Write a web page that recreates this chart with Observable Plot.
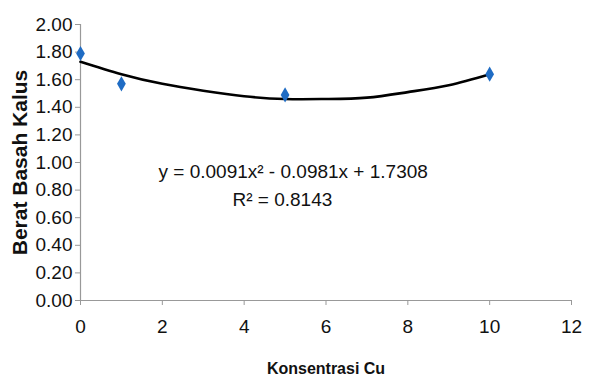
<!DOCTYPE html>
<html><head><meta charset="utf-8">
<script src="https://cdn.jsdelivr.net/npm/d3@7"></script>
<script src="https://cdn.jsdelivr.net/npm/@observablehq/plot@0.6"></script>
<style>body{margin:0;background:#fff}</style>
</head><body><div id="chart"></div>
<script>
const conc = [0, 1, 5, 10];
const berat = [1.79, 1.57, 1.49, 1.64];
const trendX = [0, 1, 2, 3, 4, 5, 6, 7, 8, 9, 10];
const trendY = [1.73, 1.64, 1.57, 1.52, 1.48, 1.46, 1.46, 1.47, 1.51, 1.56, 1.64];
const xTicks = [0, 2, 4, 6, 8, 10, 12];
const yTicks = [0, 0.2, 0.4, 0.6, 0.8, 1.0, 1.2, 1.4, 1.6, 1.8, 2.0];
const eqText = "y = 0.0091x² - 0.0981x + 1.7308";
const r2Text = "R² = 0.8143";

const pts = conc.map((x, i) => ({x, y: berat[i]}));
const trend = trendX.map((x, i) => ({x, y: trendY[i]}));

const chart = Plot.plot({
  width: 592, height: 377,
  marginLeft: 80, marginRight: 21, marginTop: 24, marginBottom: 77,
  style: {fontFamily: "Liberation Sans, Arial, sans-serif", fontSize: "18px", color: "#111", background: "#fff"},
  x: {domain: [0, 12], ticks: xTicks, label: null},
  y: {domain: [0, 2], ticks: yTicks, label: null},
  marks: [
    Plot.ruleY([0], {stroke: "#999", strokeWidth: 1.2}),
    Plot.ruleX([0], {stroke: "#999", strokeWidth: 1.2}),
    Plot.axisY({ticks: yTicks, tickSize: 5, tickPadding: 3, stroke: "#999", fill: "#111", tickFormat: d => d.toFixed(2), fontSize: 19}),
    Plot.axisX({ticks: xTicks, tickSize: 5, tickPadding: 14, stroke: "#999", fill: "#111", fontSize: 19}),
    Plot.line(trend, {x: "x", y: "y", curve: "natural", stroke: "#000", strokeWidth: 2.6}),
    Plot.dot(pts, {x: "x", y: "y", symbol: "diamond", r: 4.6, fill: "#1f6cc4", stroke: "none"}),
    Plot.text([eqText], {frameAnchor: "top-left", dx: 78, dy: 140, textAnchor: "start", fontSize: 19, fill: "#111"}),
    Plot.text([r2Text], {frameAnchor: "top-left", dx: 152, dy: 168, textAnchor: "start", fontSize: 19, fill: "#111"}),
    Plot.text(["Konsentrasi Cu"], {frameAnchor: "bottom", dy: 73, fontSize: 16, fontWeight: "bold", fill: "#111"}),
    Plot.text(["Berat Basah Kalus"], {frameAnchor: "left", dx: -60, rotate: -90, textAnchor: "middle", fontSize: 21, fontWeight: "bold", fill: "#111"})
  ]
});
document.getElementById("chart").appendChild(chart);
</script>
</body></html>
